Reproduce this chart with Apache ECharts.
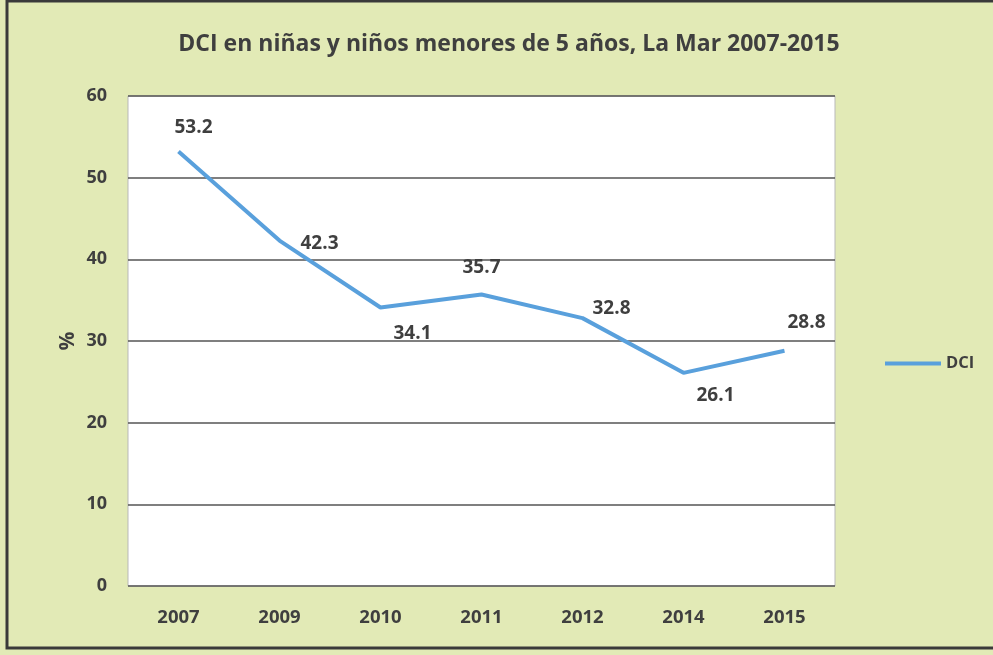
<!DOCTYPE html>
<html>
<head>
<meta charset="utf-8">
<script src="https://cdn.jsdelivr.net/npm/echarts@6/dist/echarts.min.js"></script>
<style>
  html, body { margin: 0; padding: 0; background: #e2eab6; }
  #main { width: 993px; height: 655px; }
</style>
</head>
<body>
<div id="main"></div>
<script>
var years = ['2007', '2009', '2010', '2011', '2012', '2014', '2015'];
var dci = [53.2, 42.3, 34.1, 35.7, 32.8, 26.1, 28.8];
var yTicks = [0, 10, 20, 30, 40, 50, 60];

// where each value label sits relative to its point
var labelOffsets = [[15, -24], [40, 3], [32, 26], [0, -27], [29, -10], [32, 23], [22, -28]];

var myChart = echarts.init(document.getElementById('main'));

var font = '"Open Sans", "Noto Sans", sans-serif';
var textColor = '#3f3f3f';

var option = {
    backgroundColor: '#e2eab6',
    animation: false,
    title: {
        text: 'DCI en niñas y niños menores de 5 años, La Mar 2007-2015',
        left: 504,
        top: 28,
        textAlign: 'center',
        textStyle: { fontFamily: font, fontSize: 23, fontWeight: 'bold', color: textColor }
    },
    legend: {
        data: ['DCI'],
        left: 880,
        top: 350,
        itemWidth: 56,
        itemHeight: 4,
        itemGap: 3,
        icon: 'rect',
        textStyle: { fontFamily: font, fontSize: 16.5, fontWeight: 'bold', color: textColor }
    },
    grid: {
        left: 128, right: 158, top: 96, bottom: 69,
        show: true,
        backgroundColor: '#ffffff',
        borderColor: '#b9b9b9',
        borderWidth: 1
    },
    xAxis: {
        type: 'category',
        data: years,
        boundaryGap: true,
        axisLine: { show: false },
        axisTick: { show: false },
        axisLabel: { margin: 22, fontFamily: font, fontSize: 18.5, fontWeight: 'bold', color: textColor }
    },
    yAxis: {
        type: 'value',
        min: yTicks[0],
        max: yTicks[yTicks.length - 1],
        interval: 10,
        name: '%',
        nameLocation: 'middle',
        nameGap: 52,
        nameRotate: 270,
        nameTextStyle: { fontFamily: font, fontSize: 21, fontWeight: 'bold', color: textColor },
        axisLine: { show: false },
        axisTick: { show: false },
        axisLabel: { margin: 21, fontFamily: font, fontSize: 18, fontWeight: 'bold', color: textColor },
        splitLine: { lineStyle: { color: '#555555', width: 1.5 } }
    },
    series: [
        {
            name: 'DCI',
            type: 'line',
            data: dci.map(function (v, i) {
                return {
                    value: v,
                    label: { offset: labelOffsets[i] }
                };
            }),
            symbol: 'circle',
            symbolSize: 0,
            showSymbol: true,
            lineStyle: { color: '#59a0dc', width: 4 },
            itemStyle: { color: '#59a0dc' },
            label: {
                show: true,
                position: 'inside',
                fontFamily: font,
                fontSize: 19,
                fontWeight: 'bold',
                color: textColor
            }
        }
    ],
    graphic: [
        {
            type: 'rect',
            shape: { x: 7, y: 1, width: 1000, height: 647 },
            style: { fill: null, stroke: '#3a3a3a', lineWidth: 3 },
            silent: true
        }
    ]
};

myChart.setOption(option);
</script>
</body>
</html>
